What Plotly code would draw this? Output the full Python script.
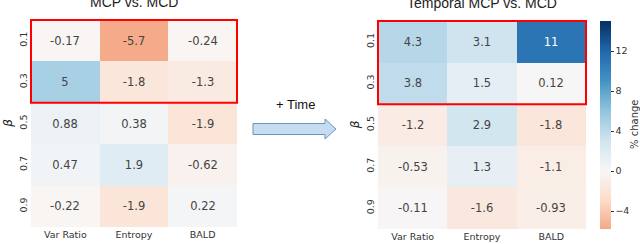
import plotly.graph_objects as go

categories = ["Var Ratio", "Entropy", "BALD"]
betas = ["0.1", "0.3", "0.5", "0.7", "0.9"]
mcp_vs_mcd = [
    [-0.17, -5.7, -0.24],
    [5, -1.8, -1.3],
    [0.88, 0.38, -1.9],
    [0.47, 1.9, -0.62],
    [-0.22, -1.9, 0.22],
]
temporal_vs_mcd = [
    [4.3, 3.1, 11],
    [3.8, 1.5, 0.12],
    [-1.2, 2.9, -1.8],
    [-0.53, 1.3, -1.1],
    [-0.11, -1.6, -0.93],
]
cbar_ticks = [-4, 0, 4, 8, 12]
ZMIN, ZMAX, VR = -5.8, 15.0, 15.0

RDBU = ["#67001f", "#b2182b", "#d6604d", "#f4a582", "#fddbc7", "#f7f7f7",
        "#d1e5f0", "#92c5de", "#4393c3", "#2166ac", "#053061"]


def hex2rgb(h):
    return [int(h[i:i + 2], 16) for i in (1, 3, 5)]


def rdbu(t):
    t = min(max(t, 0), 1) * (len(RDBU) - 1)
    i = min(int(t), len(RDBU) - 2)
    f = t - i
    a, b = hex2rgb(RDBU[i]), hex2rgb(RDBU[i + 1])
    c = [round(a[k] + (b[k] - a[k]) * f) for k in range(3)]
    return f"rgb({c[0]},{c[1]},{c[2]})"


N = 60
colorscale = []
for k in range(N + 1):
    p = k / N
    v = ZMIN + p * (ZMAX - ZMIN)
    colorscale.append([p, rdbu((v + VR) / (2 * VR))])


def fmt(v):
    return f"{v:.2g}"


def texts(m):
    return [[fmt(v) for v in row] for row in m]


FONT = "DejaVu Sans"
W, H = 640, 244
CELLFONT = dict(size=11.5, family=FONT)

fig = go.Figure()
fig.add_trace(go.Heatmap(
    z=mcp_vs_mcd, x=categories, y=betas, text=texts(mcp_vs_mcd),
    texttemplate="%{text}", textfont=CELLFONT,
    colorscale=colorscale, zmin=ZMIN, zmax=ZMAX, showscale=False,
    xaxis="x", yaxis="y", hoverinfo="skip"))
fig.add_trace(go.Heatmap(
    z=temporal_vs_mcd, x=categories, y=betas, text=texts(temporal_vs_mcd),
    texttemplate="%{text}", textfont=CELLFONT,
    colorscale=colorscale, zmin=ZMIN, zmax=ZMAX, showscale=True,
    xaxis="x2", yaxis="y2", hoverinfo="skip",
    colorbar=dict(
        x=600 / W, xanchor="left", xref="paper", xpad=0, ypad=0,
        y=1 - 125 / H, yanchor="middle", len=208, lenmode="pixels",
        thickness=11, outlinewidth=0,
        tickvals=cbar_ticks, ticks="outside", ticklen=3, tickcolor="#333",
        tickfont=dict(size=9.5, family=FONT, color="#333"),
    )))

xcommon = dict(showgrid=False, zeroline=False, ticks="", showline=False, automargin=False,
               tickfont=dict(size=9.5, family=FONT, color="#333"))
ycommon = dict(showgrid=False, zeroline=False, ticks="", showline=False, automargin=False,
               autorange="reversed", tickangle=-90,
               tickfont=dict(size=9.5, family=FONT, color="#333"),
               title=dict(text="<i>β</i>", font=dict(size=12, family=FONT, color="#222"),
                          standoff=2))

fig.update_layout(
    width=W, height=H, margin=dict(l=0, r=0, t=0, b=0),
    paper_bgcolor="white", plot_bgcolor="white",
    font=dict(family=FONT),
    xaxis=dict(domain=[30 / W, 238 / W], anchor="y", **xcommon),
    yaxis=dict(domain=[1 - 227 / H, 1 - 19 / H], anchor="x", **ycommon),
    xaxis2=dict(domain=[377 / W, 587 / W], anchor="y2", **xcommon),
    yaxis2=dict(domain=[1 - 229 / H, 1 - 20 / H], anchor="x2", **ycommon),
)

# red highlight boxes around first two beta rows
for xr, yr in (("x", "y"), ("x2", "y2")):
    fig.add_shape(type="rect", xref=xr, yref=yr, x0=-0.5, x1=2.5, y0=-0.5, y1=1.5,
                  line=dict(color="#ff0000", width=2), fillcolor="rgba(0,0,0,0)")

# titles
fig.add_annotation(text="MCP vs. MCD", xref="paper", yref="paper",
                   x=134 / W, y=1 - 12 / H, xanchor="center", yanchor="bottom",
                   showarrow=False, font=dict(size=14, family="Liberation Sans", color="#222"))
fig.add_annotation(text="Temporal MCP vs. MCD", xref="paper", yref="paper",
                   x=482 / W, y=1 - 13 / H, xanchor="center", yanchor="bottom",
                   showarrow=False, font=dict(size=14, family="Liberation Sans", color="#222"))

# colorbar title
fig.add_annotation(text="% change", xref="paper", yref="paper",
                   x=635 / W, y=1 - 125 / H, xanchor="center", yanchor="middle",
                   textangle=-90, showarrow=False,
                   font=dict(size=10, family=FONT, color="#333"))

# "+ Time" arrow
fig.add_annotation(text="+ Time", xref="paper", yref="paper",
                   x=295 / W, y=1 - 104 / H, xanchor="center", yanchor="middle",
                   showarrow=False, font=dict(size=13, family="Liberation Sans", color="#111"))


def px(x, y):
    return f"{x / W:.5f}", f"{1 - y / H:.5f}"


pts = [(253, 123.5), (325, 123.5), (325, 119), (336, 129), (325, 139), (325, 134.5), (253, 134.5)]
path = "M " + " L ".join(",".join(px(x, y)) for x, y in pts) + " Z"
fig.add_shape(type="path", xref="paper", yref="paper", path=path,
              fillcolor="#c4ddf0", line=dict(color="#6f93bd", width=1))

fig.write_html("out.html", config={"displayModeBar": False},
               post_script="document.body.style.margin='0';document.body.style.overflow='hidden';")
